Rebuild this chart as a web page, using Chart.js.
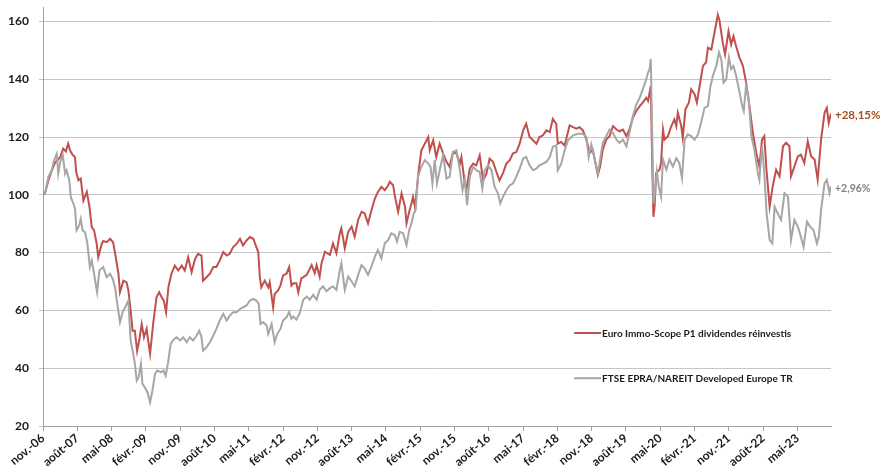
<!DOCTYPE html>
<html>
<head>
<meta charset="utf-8">
<script src="https://cdn.jsdelivr.net/npm/chart.js@4.4.1/dist/chart.umd.min.js"></script>
<style>
  html, body { margin: 0; padding: 0; background: #ffffff; }
  #wrap { width: 880px; height: 468px; position: relative; }
</style>
</head>
<body>
<div id="wrap"><canvas id="c" width="880" height="468"></canvas></div>
<script>
// x values: months elapsed since November 2006 (base 100 at start)
const tickMonths = [0, 9, 18, 27, 36, 45, 54, 63, 72, 81, 90, 99, 108, 117, 126, 135, 144, 153, 162, 171, 180, 189, 198];
const tickLabels = ["nov.-06", "août-07", "mai-08", "févr.-09", "nov.-09", "août-10", "mai-11", "févr.-12", "nov.-12", "août-13", "mai-14", "févr.-15", "nov.-15", "août-16", "mai-17", "févr.-18", "nov.-18", "août-19", "mai-20", "févr.-21", "nov.-21", "août-22", "mai-23"];
const yTicks = [20, 40, 60, 80, 100, 120, 140, 160];

const seriesNames = ["Euro Immo-Scope P1 dividendes réinvestis", "FTSE EPRA/NAREIT Developed Europe TR"];

const redMonths = [0,0.5,1.4,2.2,3.1,4.5,5.3,6.0,6.6,7.1,7.7,8.4,8.7,9.3,9.9,10.6,11.5,12.2,12.8,13.4,14.1,14.5,15.4,15.8,16.7,17.6,18.4,19.1,19.8,20.2,21.1,21.9,22.4,23.0,23.5,24.1,24.7,25.3,25.9,26.5,27.2,27.6,28.1,28.9,29.8,30.5,31.1,31.7,32.3,32.9,33.7,34.6,35.5,36.4,37.2,38.1,39.0,39.9,40.7,41.6,42.0,42.9,43.8,44.7,45.5,46.4,47.3,48.2,49.0,49.9,50.8,51.7,52.5,53.4,54.3,55.2,56.0,56.5,56.9,57.3,58.2,59.1,59.5,60.4,60.8,61.7,62.3,63.0,63.9,64.6,65.2,65.7,66.5,67.0,67.8,69.2,70.5,71.3,71.8,72.6,73.1,74.0,75.3,76.1,77.0,77.9,78.3,79.2,80.1,81.0,81.8,82.7,83.6,84.4,85.3,86.2,87.1,87.9,88.8,89.7,90.6,91.0,91.9,92.3,93.2,94.1,95.0,95.4,96.2,96.7,97.1,97.6,98.0,98.6,99.3,100.2,101.1,101.5,102.4,103.2,104.1,105.0,105.9,106.7,107.6,108.5,109.4,109.8,110.7,111.1,112.0,112.9,113.7,114.6,115.5,116.4,117.2,118.1,119.0,119.8,120.7,121.6,122.5,123.3,124.2,125.1,126.0,126.8,127.7,128.6,129.5,130.3,131.2,132.1,133.0,133.8,134.7,135.1,136.0,136.9,138.2,139.1,140.0,140.8,141.7,142.6,143.5,144.3,144.8,145.6,146.2,146.9,147.8,148.7,149.6,150.5,151.3,152.2,153.1,153.9,154.8,155.7,156.6,157.4,158.3,158.8,159.2,159.5,159.6,159.9,160.2,160.5,160.9,161.8,162.2,162.7,163.1,164.0,164.9,165.7,166.2,166.6,167.5,167.9,168.6,169.5,170.1,171.0,171.6,172.3,173.2,174.0,174.5,175.4,176.2,177.1,177.5,178.4,179.0,179.9,180.6,181.2,181.9,182.8,183.7,184.5,185.4,186.3,187.2,188.0,188.7,189.3,189.8,190.7,191.5,192.4,193.3,194.2,195.0,195.9,196.3,197.2,198.1,198.9,199.8,200.7,201.6,202.5,203.3,204.2,205.1,205.7,206.2,206.8];
const redValues = [100,100.4,105,108,111,113,116,115,117.7,115.4,114,113,108,105,105.6,98,101,95.8,88.8,87.7,83,78.4,83,84,83.6,84.8,83.6,78.4,72.7,66.3,70.3,69.8,67,60,53,53,46,50,55.3,50.7,53.6,49.6,45,55.3,64.6,66.3,64.6,63.4,59.4,68,72.7,75.5,73.8,75.5,73.8,78.4,73.2,77.8,79.6,79,70.3,71.5,72.7,75,75,77.3,80.2,79,79.6,81.9,83,84.8,82.5,84.2,85.4,84.8,81.9,80.2,71.5,68,70.3,68,69.8,61,65.7,66.9,68.6,72.1,72.7,75,68.6,69.4,69.4,66.2,71.1,72.3,75.7,72.9,75.7,71.7,76.3,80.3,79.2,83.2,79.8,86.7,88.4,81.5,87.2,89,85.5,91.3,94.1,93.6,90.1,94.7,98.7,101,102.8,101.6,103.3,104.5,103.3,99.9,94.1,100.5,95.9,90.1,94.7,97,99.3,95.9,100.5,108.5,115.4,117.7,120,115.4,118.9,113.1,117.7,114.3,111.4,109.7,114.8,114.3,110.8,113.1,103.9,101.6,109.1,110.8,110.2,113.7,105,107.4,112.5,111.4,107.9,105,107.4,110.8,112,114.3,114.8,117.7,122.3,124.6,120,118.9,117.7,120,120.6,122.3,121.7,126.3,124.6,117.7,118.3,117.1,124,123.4,122.9,123.4,122.3,119.1,114.5,115.6,112.2,106.9,109.8,115.6,119.1,120.3,123.8,122.6,122,122.6,120.3,122.6,126.7,129,130.7,131.9,133.6,132.5,135.4,137.7,130.7,109.8,92.4,95.9,107.5,108.7,111,122.6,119.1,120.3,123.8,126.1,123.8,128.4,123.8,119.7,129.6,131.9,136.5,134.8,131.9,137.5,144.6,145.8,150.9,150.3,156,162.3,160.6,152.6,148.6,156.6,152,154.9,151.4,147.4,144.6,139,130.7,121.4,114.5,109.8,119.1,120.3,109.8,95.9,102.9,108.7,106.4,116.8,118,116.8,106.4,109.8,113.3,113.9,111,118.5,113.3,112.2,105.2,119.1,128.4,130.1,124.9,128.15];

const greyMonths = [0,0.5,1.4,2.3,2.9,3.6,4.0,4.5,5.2,5.8,6.2,6.9,7.3,8.0,8.4,8.8,9.5,9.9,10.4,11.0,11.6,12.3,12.8,13.4,14.2,14.8,15.8,16.7,17.6,18.3,18.9,19.5,20.2,20.9,21.8,22.4,22.6,23.0,23.5,24.0,24.6,25.1,25.7,26.1,26.7,27.4,28.1,28.7,29.4,30.0,30.9,31.6,32.2,32.9,33.5,34.4,35.1,36.0,36.8,37.7,38.5,39.4,40.3,41.0,41.6,42.0,42.9,43.8,44.7,45.5,46.4,47.3,48.2,49.0,49.9,50.8,51.7,52.5,53.4,54.3,55.2,56.0,56.6,57.1,57.8,58.7,59.1,60.0,60.8,61.5,62.3,63.0,63.9,64.6,65.2,65.7,66.5,67.4,68.3,69.2,70.0,70.9,71.8,72.6,73.5,74.4,75.3,76.1,77.0,77.9,78.3,79.2,80.1,81.0,81.8,82.7,83.6,84.4,85.3,86.2,87.1,87.9,88.8,89.7,90.6,91.4,92.3,92.9,93.6,94.5,95.4,96.1,96.7,97.3,97.8,98.4,99.3,100.2,101.1,101.7,102.2,102.8,103.4,104.3,105.0,105.9,106.7,107.6,108.5,109.4,110.1,110.7,111.3,112.0,112.9,113.7,114.6,115.3,115.9,116.8,117.7,118.5,119.4,120.0,120.7,121.6,122.5,123.3,124.2,125.1,126.0,126.8,127.7,128.6,129.5,130.3,131.2,132.1,133.0,133.8,134.7,135.1,136.0,136.9,137.8,139.1,140.4,141.7,142.6,143.2,143.9,144.8,145.6,146.2,146.9,147.8,148.7,149.6,150.5,151.3,152.2,153.1,153.9,154.8,155.7,156.6,157.4,158.3,158.8,159.2,159.5,159.6,159.9,160.2,160.6,161.1,161.6,162.2,162.7,163.6,164.4,165.3,166.2,167.0,167.7,168.4,169.2,170.1,171.0,171.9,172.7,173.6,174.5,175.1,175.8,176.7,177.4,178.0,178.6,179.3,180.0,180.6,181.2,181.9,182.8,183.5,183.9,184.5,185.2,185.9,186.7,187.6,188.0,188.7,189.3,189.9,190.7,191.4,192.0,192.8,193.7,194.6,195.5,196.3,197.2,198.1,198.9,199.6,200.5,201.3,202.2,203.1,203.6,204.2,205.1,205.7,206.4,206.8];
const greyValues = [100,100.4,106.1,108.5,111.9,114.2,107.3,111.3,113.6,107.3,108.5,105,99.2,96.9,95.2,87.7,89.4,91.7,87.7,87.1,83.6,75,77.3,72.7,66.3,73.8,75,71.5,72.7,70.9,68,62.3,55.9,59.4,61.7,63.4,58.8,49.6,46.1,42.6,35.7,36.9,41.5,34.6,33.4,31.7,28.2,32.2,38,39.2,38.6,39.2,37.4,42.6,48.4,50.1,50.7,49.6,50.7,49,50.7,49.6,51.3,53,50.7,46.1,47.2,49,51.3,53.6,56.5,58.8,56.5,58.2,59.4,59.4,60.5,61.1,61.7,63.4,64,63.4,62.3,55.3,55.9,54.8,51.9,55.3,49,51.9,53.6,56.5,57.6,59.5,57.1,57.9,56.8,59.1,63.7,64.8,63.7,65.4,63.7,67.1,68.3,66.6,67.7,68.3,67.1,74,76.3,67.1,71.7,70,68.3,72.3,75.7,74.6,72.3,75.2,78.6,80.9,78,83.2,84.4,86.7,86.1,83.8,87.2,86.7,82.6,87.8,90.1,93.6,94.7,106.2,109.7,112,110.8,109.7,103.9,112,103.9,109.7,113.7,105.6,106.2,114.8,115.4,108.5,101.6,105.1,96.4,106.2,109.7,108.5,107.9,102.2,108.5,110.2,108.5,102.8,100.5,97,99.3,101.6,103.3,103.9,106.2,109.1,112.5,113.1,110.2,108.5,109.1,110.2,110.8,111.4,113.1,116.6,117.1,108.5,110.8,115.4,118.9,120.6,121.1,121.1,120,113,117.4,112.2,107.5,112.2,118,120.3,122.6,121.4,119.1,118,119.1,116.8,121.4,127.2,131.3,133.6,136.5,140,142.3,143.5,147,140,119.1,97,100.5,108.1,102.9,99.4,112.2,108.7,112.2,109.8,112.7,111,105.8,119.1,120.9,120.3,119.1,120.9,124.9,130.1,130.7,137.1,141.2,144.6,149.3,147,138.8,140,147.5,143.5,144.6,141.2,135.4,130.7,129,137.7,133,120.3,115.6,107.5,105.2,116.8,107.5,93.6,84.3,83.2,95.9,93.6,91.3,100.6,99.4,84.3,91.3,89,85.5,82,90.7,89,87.8,83.2,85.5,94.8,104,105.2,100.6,102.96];

const colors = { red: "#C0504D", grey: "#A6A6A6", redLabel: "#A8501E", greyLabel: "#808080", text: "#1A1A1A", grid: "#C6C6C6", axis: "#A0A0A0" };

function toPoints(xs, ys) { return xs.map((x, i) => ({ x: x, y: ys[i] })); }

function perfText(v) {
  const p = v - 100;
  return (p >= 0 ? "+" : "") + p.toFixed(2).replace(".", ",") + "%";
}

const overlayPlugin = {
  id: "overlay",
  afterDatasetsDraw(chart) {
    const ctx = chart.ctx;
    const ca = chart.chartArea;
    const w = ca.right - ca.left, h = ca.bottom - ca.top;
    ctx.save();
    // Legend drawn inside the plot area
    const legX = ca.left + 0.674 * w;
    const legYs = [ca.top + 0.778 * h, ca.top + 0.886 * h];
    chart.data.datasets.forEach((ds, i) => {
      const y = legYs[i];
      ctx.strokeStyle = ds.borderColor;
      ctx.lineWidth = 2;
      ctx.beginPath();
      ctx.moveTo(legX, y);
      ctx.lineTo(legX + 27, y);
      ctx.stroke();
      ctx.fillStyle = colors.text;
      ctx.font = "bold 10px Lato";
      ctx.textAlign = "left";
      ctx.textBaseline = "middle";
      ctx.fillText(ds.label, legX + 28, y + 0.5);
    });
    // end-of-series performance labels
    chart.data.datasets.forEach((ds, i) => {
      const meta = chart.getDatasetMeta(i);
      const pt = meta.data[meta.data.length - 1];
      const last = ds.data[ds.data.length - 1].y;
      ctx.fillStyle = ds.endColor;
      ctx.font = ds.endFont;
      ctx.textAlign = "left";
      ctx.textBaseline = "middle";
      ctx.fillText(perfText(last), pt.x + 4, pt.y + 2);
    });
    ctx.restore();
  }
};

new Chart(document.getElementById("c"), {
  type: "line",
  data: {
    datasets: [
      { label: seriesNames[0], data: toPoints(redMonths, redValues), borderColor: colors.red, borderWidth: 2, pointRadius: 0, tension: 0, order: 1, endColor: colors.redLabel, endFont: "bold 11.5px Lato" },
      { label: seriesNames[1], data: toPoints(greyMonths, greyValues), borderColor: colors.grey, borderWidth: 2, pointRadius: 0, tension: 0, order: 0, endColor: colors.greyLabel, endFont: "bold 10.5px Lato" }
    ]
  },
  options: {
    responsive: false,
    animation: false,
    devicePixelRatio: 1,
    layout: { padding: { top: 7, right: 49, left: 0, bottom: 0 } },
    plugins: { legend: { display: false }, tooltip: { enabled: false } },
    scales: {
      x: {
        type: "linear",
        min: 0,
        max: 206.8,
        afterBuildTicks(scale) { scale.ticks = tickMonths.map(v => ({ value: v })); },
        afterFit(scale) { scale.height = 42; scale.paddingLeft = 0; scale.paddingRight = 0; },
        grid: { drawOnChartArea: false, drawTicks: true, tickLength: 5, color: colors.axis },
        border: { display: true, color: colors.axis, width: 1 },
        ticks: {
          autoSkip: false,
          minRotation: 40,
          maxRotation: 40,
          padding: 0,
          color: colors.text,
          font: { family: "Lato", size: 12, weight: "bold" },
          callback(value) { const i = tickMonths.indexOf(value); return i >= 0 ? tickLabels[i] : ""; }
        }
      },
      y: {
        min: 20,
        max: 165,
        afterBuildTicks(scale) { scale.ticks = yTicks.map(v => ({ value: v })); },
        afterFit(scale) { scale.width = 43; scale.paddingTop = 0; scale.paddingBottom = 0; },
        grid: { color: colors.grid, lineWidth: 1, tickLength: 4, drawTicks: true },
        border: { display: true, color: colors.axis, width: 1 },
        ticks: {
          padding: 10,
          color: colors.text,
          font: { family: "Lato", size: 12, weight: "bold" }
        }
      }
    }
  },
  plugins: [overlayPlugin]
});
</script>
</body>
</html>
